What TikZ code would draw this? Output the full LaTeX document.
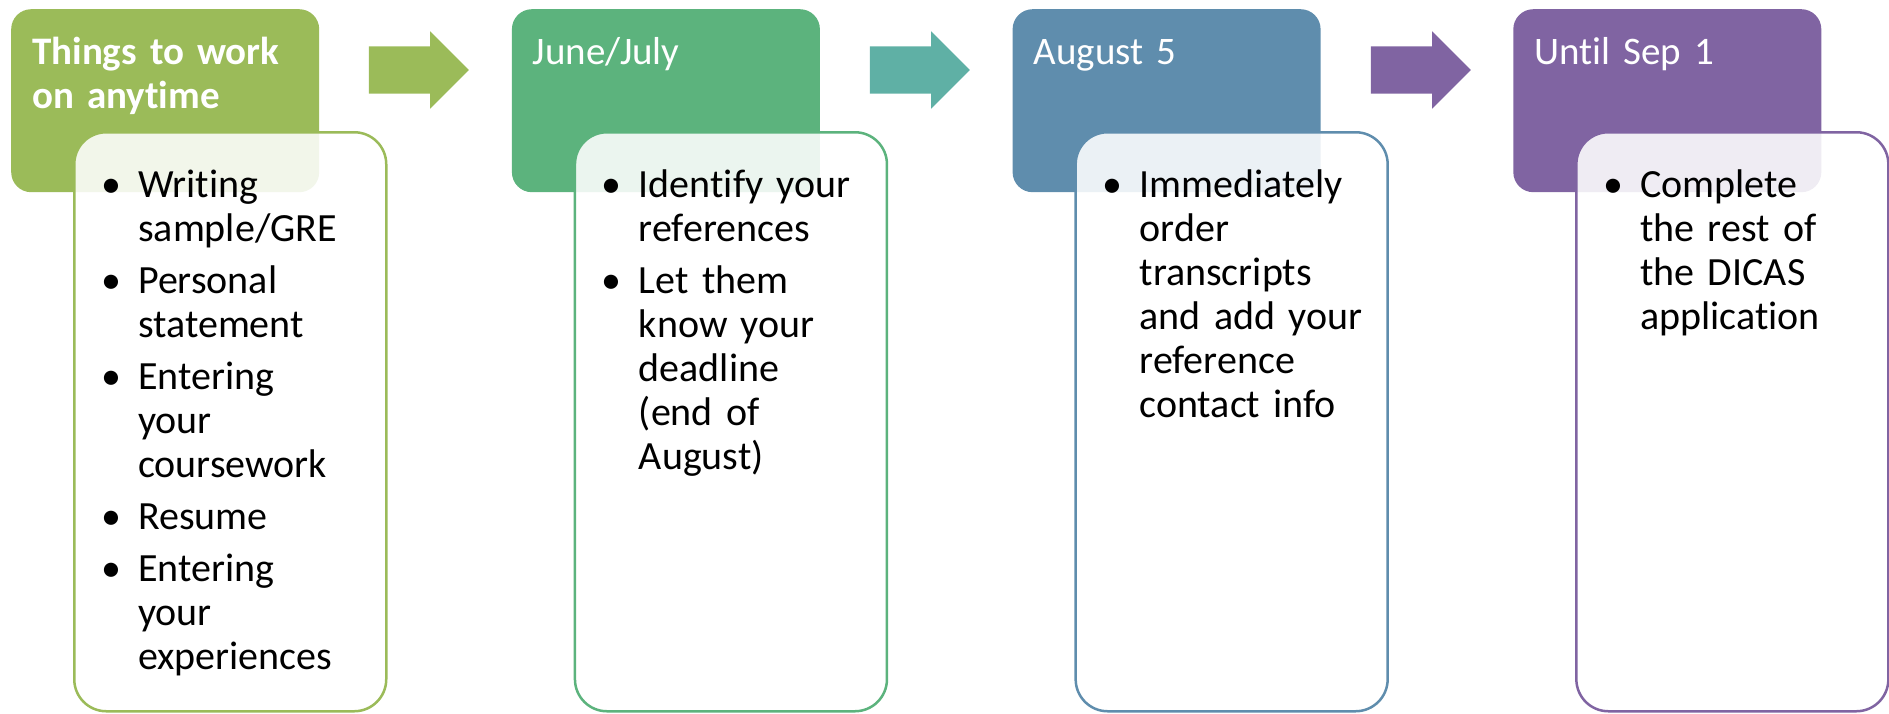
\documentclass[tikz,border=0pt]{standalone}
\usepackage{fontspec}
\setmainfont{Carlito}[RawFeature={-liga;-clig;-dlig;-calt}]
\usetikzlibrary{positioning}
\usetikzlibrary{shapes.arrows}
\definecolor{anyGreen}{HTML}{9BBB59}
\definecolor{juneGreen}{HTML}{5CB37D}
\definecolor{augBlue}{HTML}{5F8DAD}
\definecolor{sepPurple}{HTML}{8064A2}
\definecolor{tealArrow}{HTML}{5FB0A5}
\newcommand{\bul}{\leavevmode\llap{\textbullet\hspace{17pt}}}
\tikzstyle{header} = [rounded corners=20pt, minimum width=308pt, minimum height=183pt, anchor=north west, inner sep=0pt]
\tikzstyle{task} = [line width=2.5pt, rounded corners=32pt, fill=white, fill opacity=0.88, minimum width=312pt, minimum height=579pt, anchor=north west, inner sep=0pt]
\tikzstyle{title} = [anchor=base west, inner sep=0pt, align=left, text width=285pt, text=white, font=\fontsize{39}{44}\selectfont]
\tikzstyle{items} = [anchor=base west, inner sep=0pt, align=left, text width=240pt, font=\fontsize{40}{44}\selectfont]
\tikzstyle{next} = [single arrow, single arrow head extend=15pt, single arrow tip angle=90, minimum height=100pt, inner xsep=0pt, inner ysep=23.5pt]

\begin{document}
\begin{tikzpicture}[x=1pt, y=-1pt]
	\useasboundingbox (0,0) rectangle (1889,713);
	\node[header, fill=anyGreen] (anyHead) at (11,9) {};
	\node[header, fill=juneGreen] (juneHead) at (511.7,9) {};
	\node[header, fill=augBlue] (augHead) at (1012.4,9) {};
	\node[header, fill=sepPurple] (sepHead) at (1513.1,9) {};
	
	\node[next, fill=anyGreen] (anyArrow) at (407,70) {};
	\node[next, fill=tealArrow] (juneArrow) at (908,70) {};
	\node[next, fill=sepPurple] (augArrow) at (1409,70) {};
	
	\node[title, font=\fontsize{39}{44}\selectfont\bfseries] (anyTitle) at ([xshift=21pt, yshift=-55pt]anyHead.north west) {Things to work\\on anytime};
	\node[title] (juneTitle) at ([xshift=21pt, yshift=-55pt]juneHead.north west) {June/July};
	\node[title] (augTitle) at ([xshift=21pt, yshift=-55pt]augHead.north west) {August 5};
	\node[title] (sepTitle) at ([xshift=21pt, yshift=-55pt]sepHead.north west) {Until Sep 1};
	
	\node[task, draw=anyGreen] (anyBox) at ([xshift=62pt, yshift=-122pt]anyHead.north west) {};
	\node[task, draw=juneGreen] (juneBox) at ([xshift=62pt, yshift=-122pt]juneHead.north west) {};
	\node[task, draw=augBlue] (augBox) at ([xshift=62pt, yshift=-122pt]augHead.north west) {};
	\node[task, draw=sepPurple] (sepBox) at ([xshift=62pt, yshift=-122pt]sepHead.north west) {};
	
	\node[items] (anyList) at ([xshift=65pt, yshift=-66pt]anyBox.north west) {\bul Writing\\sample/GRE\\[8pt]\bul Personal\\statement\\[8pt]\bul Entering\\your\\coursework\\[8pt]\bul Resume\\[8pt]\bul Entering\\your\\experiences};
	\node[items] (juneList) at ([xshift=65pt, yshift=-66pt]juneBox.north west) {\bul Identify your\\references\\[8pt]\bul Let them\\know your\\deadline\\(end of\\August)};
	\node[items] (augList) at ([xshift=65pt, yshift=-66pt]augBox.north west) {\bul Immediately\\order\\transcripts\\and add your\\reference\\contact info};
	\node[items] (sepList) at ([xshift=65pt, yshift=-66pt]sepBox.north west) {\bul Complete\\the rest of\\the DICAS\\application};
\end{tikzpicture}
\end{document}
